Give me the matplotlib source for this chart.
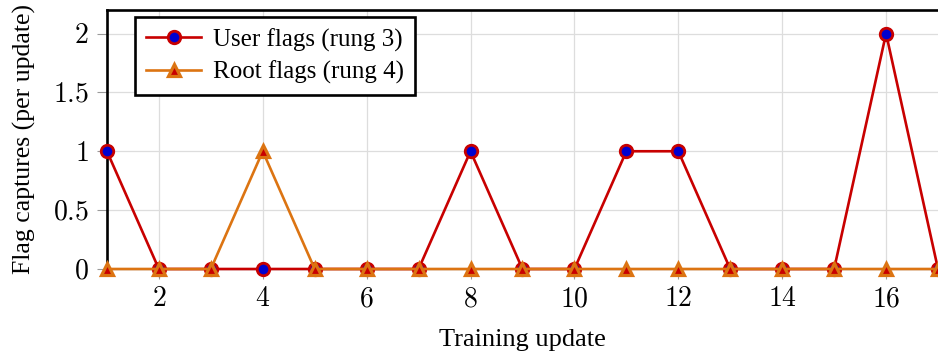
import matplotlib
matplotlib.use("Agg")
from matplotlib import pyplot as plt

plt.rcParams["font.family"] = ["Liberation Serif", "DejaVu Serif"]
plt.rcParams["mathtext.fontset"] = "cm"

updates = list(range(1, 18))
user_flags = [1, 0, 0, 0, 0, 0, 0, 1, 0, 0, 1, 1, 0, 0, 0, 2, 0]
root_flags = [0, 0, 0, 1, 0, 0, 0, 0, 0, 0, 0, 0, 0, 0, 0, 0, 0]

xticks = [2, 4, 6, 8, 10, 12, 14, 16]
yticks = [0, 0.5, 1, 1.5, 2]

red = "#c80000"
orange = "#dc7412"
gray = "#9a9a9a"

fig = plt.figure(figsize=(9.38, 3.56), dpi=100)
ax = fig.add_axes([0.114, 0.2444, 0.886, 0.7276])

ax.plot(updates, user_flags, color=red, lw=1.9, marker="o", ms=9,
        mfc="#0000d0", mec=red, mew=2.0, clip_on=False, zorder=3,
        label="User flags (rung 3)")
ax.plot(updates, root_flags, color=orange, lw=1.9, marker="^", ms=8,
        mfc=red, mec=orange, mew=2.3, clip_on=False, zorder=4,
        label="Root flags (rung 4)")

ax.set_xlim(1, 17)
ax.set_ylim(0, 2.2)
ax.set_xticks(xticks)
ax.set_xticklabels([f"${t}$" for t in xticks])
ax.set_yticks(yticks)
ax.set_yticklabels([f"${t:g}$" for t in yticks])
ax.tick_params(axis="both", direction="out", length=7, width=0.8,
               color=gray, labelsize=20)
ax.tick_params(axis="x", pad=6)
ax.tick_params(axis="y", pad=6)
ax.grid(True, color="#dddddd", lw=0.9)
ax.set_axisbelow(True)

ax.spines["right"].set_visible(False)
ax.spines["top"].set_linewidth(1.9)
ax.spines["left"].set_linewidth(1.9)
ax.spines["bottom"].set_color(gray)
ax.spines["bottom"].set_linewidth(1.0)

ax.set_xlabel("Training update", fontsize=19, labelpad=12)
ax.set_ylabel("Flag captures (per update)", fontsize=18.5, labelpad=12)

leg = ax.legend(loc="upper left", bbox_to_anchor=(0.034, 0.973), fontsize=18,
                frameon=True, fancybox=False, edgecolor="black",
                framealpha=1, borderpad=0.45, handlelength=2.2,
                handletextpad=0.45, labelspacing=0.36, borderaxespad=0.0)
leg.get_frame().set_linewidth(1.9)

fig.savefig("out.png", dpi=100)
